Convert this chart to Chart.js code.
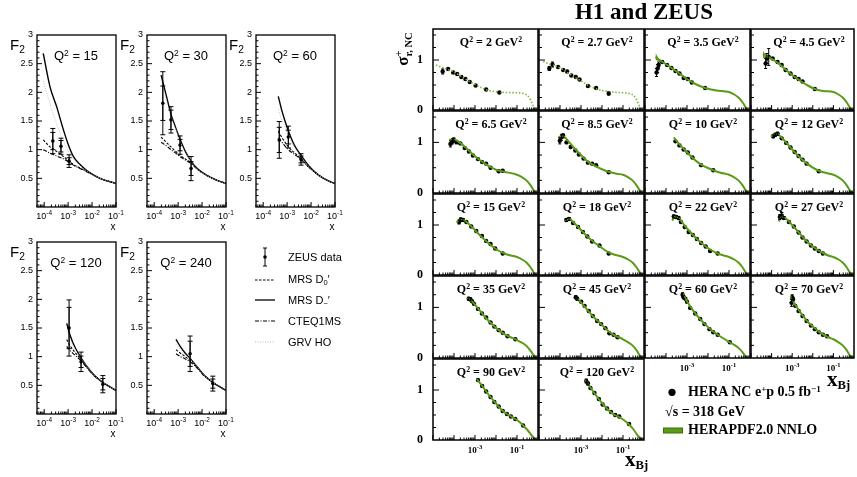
<!DOCTYPE html>
<html>
<head>
<meta charset="utf-8">
<script src="https://cdn.jsdelivr.net/npm/chart.js@4.4.1/dist/chart.umd.min.js"></script>
<style>
  body { margin: 0; width: 857px; height: 477px; position: relative; overflow: hidden; background: #fff; }
  canvas, svg { position: absolute; }
  .t { position: absolute; white-space: nowrap; line-height: 1; color: #000; }
  .sans { font-family: "Liberation Sans", Arial, sans-serif; }
  .serif { font-family: "Liberation Serif", "Times New Roman", serif; font-weight: bold; }
  .up { position: relative; top: -0.45em; font-size: 0.65em; }
  .dn { position: relative; top: 0.3em; font-size: 0.68em; }
</style>
</head>
<body>
<script>
// ---------- left figure (ZEUS F2) : [log10 x, F2, stat err, total err] ----------
const zeusQ2 = ['15', '30', '60', '120', '240'];
const zeus15 = [[-3.64, 1.15, 0.15, 0.22], [-3.30, 1.06, 0.10, 0.14], [-2.96, 0.80, 0.06, 0.11]];
const zeus30 = [[-3.64, 1.81, 0.30, 0.55], [-3.30, 1.52, 0.17, 0.23], [-2.92, 1.08, 0.10, 0.16], [-2.46, 0.67, 0.12, 0.21]];
const zeus60 = [[-3.33, 1.17, 0.22, 0.32], [-2.95, 1.22, 0.12, 0.19], [-2.42, 0.83, 0.06, 0.10]];
const zeus120 = [[-2.96, 1.50, 0.36, 0.49], [-2.46, 0.91, 0.10, 0.17], [-1.55, 0.52, 0.10, 0.15]];
const zeus240 = [[-2.50, 1.05, 0.22, 0.31], [-1.55, 0.53, 0.08, 0.13]];

// curves [log10 x, F2]
const mrsDm15 = [[-4.04, 2.68], [-3.76, 2.1], [-3.48, 1.75], [-3.2, 1.35], [-2.96, 1.05], [-2.78, 0.88], [-2.5, 0.74], [-2.21, 0.63], [-1.67, 0.5], [-1.0, 0.41]];
const mrsD015 = [[-4.04, 1.17], [-3.76, 1.05], [-3.48, 0.97], [-3.2, 0.88], [-2.96, 0.80], [-2.78, 0.74], [-2.5, 0.68], [-2.21, 0.62], [-1.67, 0.5], [-1.0, 0.41]];
const cteq15 = [[-4.04, 1.0], [-3.76, 0.94], [-3.48, 0.89], [-3.2, 0.84], [-2.96, 0.78], [-2.78, 0.73], [-2.5, 0.67], [-2.21, 0.61], [-1.67, 0.5], [-1.0, 0.41]];
const grv15 = [[-4.04, 2.2], [-3.76, 1.8], [-3.48, 1.45], [-3.2, 1.15], [-2.96, 0.95], [-2.78, 0.84], [-2.5, 0.72], [-2.21, 0.62], [-1.67, 0.5], [-1.0, 0.41]];

const mrsDm30 = [[-3.71, 2.30], [-3.5, 1.95], [-3.3, 1.62], [-3.1, 1.38], [-2.92, 1.18], [-2.7, 0.97], [-2.46, 0.80], [-2.2, 0.67], [-1.8, 0.55], [-1.4, 0.47], [-1.0, 0.41]];
const mrsD030 = [[-3.71, 1.22], [-3.5, 1.13], [-3.3, 1.05], [-3.1, 0.97], [-2.92, 0.90], [-2.7, 0.84], [-2.46, 0.77], [-2.2, 0.66], [-1.8, 0.55], [-1.4, 0.47], [-1.0, 0.41]];
const cteq30 = [[-3.71, 1.13], [-3.5, 1.07], [-3.3, 1.0], [-3.1, 0.94], [-2.92, 0.88], [-2.7, 0.82], [-2.46, 0.76], [-2.2, 0.66], [-1.8, 0.55], [-1.4, 0.47], [-1.0, 0.41]];
const grv30 = [[-3.71, 2.22], [-3.5, 1.88], [-3.3, 1.58], [-3.1, 1.35], [-2.92, 1.15], [-2.7, 0.95], [-2.46, 0.79], [-2.2, 0.66], [-1.8, 0.55], [-1.4, 0.47], [-1.0, 0.41]];

const mrsDm60 = [[-3.37, 1.93], [-3.2, 1.65], [-2.95, 1.33], [-2.7, 1.08], [-2.42, 0.9], [-2.1, 0.72], [-1.7, 0.56], [-1.3, 0.46], [-1.0, 0.41]];
const mrsD060 = [[-3.37, 1.32], [-3.2, 1.2], [-2.95, 1.05], [-2.7, 0.95], [-2.42, 0.84], [-2.1, 0.70], [-1.7, 0.56], [-1.3, 0.46], [-1.0, 0.41]];
const cteq60 = [[-3.37, 1.2], [-3.2, 1.12], [-2.95, 1.0], [-2.7, 0.92], [-2.42, 0.83], [-2.1, 0.70], [-1.7, 0.56], [-1.3, 0.46], [-1.0, 0.41]];
const grv60 = [[-3.37, 1.7], [-3.2, 1.5], [-2.95, 1.25], [-2.7, 1.05], [-2.42, 0.88], [-2.1, 0.71], [-1.7, 0.56], [-1.3, 0.46], [-1.0, 0.41]];

const mrsDm120 = [[-3.06, 1.58], [-2.9, 1.35], [-2.7, 1.15], [-2.46, 0.98], [-2.2, 0.82], [-1.9, 0.67], [-1.55, 0.55], [-1.2, 0.46], [-1.0, 0.41]];
const mrsD0120 = [[-3.06, 1.3], [-2.9, 1.18], [-2.7, 1.07], [-2.46, 0.95], [-2.2, 0.81], [-1.9, 0.67], [-1.55, 0.55], [-1.2, 0.46], [-1.0, 0.41]];
const cteq120 = [[-3.06, 1.18], [-2.9, 1.1], [-2.7, 1.02], [-2.46, 0.93], [-2.2, 0.8], [-1.9, 0.66], [-1.55, 0.55], [-1.2, 0.46], [-1.0, 0.41]];
const grv120 = [[-3.06, 1.45], [-2.9, 1.28], [-2.7, 1.12], [-2.46, 0.97], [-2.2, 0.82], [-1.9, 0.67], [-1.55, 0.55], [-1.2, 0.46], [-1.0, 0.41]];

const mrsDm240 = [[-3.09, 1.3], [-2.9, 1.17], [-2.7, 1.06], [-2.5, 0.97], [-2.2, 0.82], [-1.9, 0.67], [-1.55, 0.55], [-1.2, 0.46], [-1.0, 0.41]];
const mrsD0240 = [[-3.09, 1.12], [-2.9, 1.06], [-2.7, 1.0], [-2.5, 0.93], [-2.2, 0.81], [-1.9, 0.67], [-1.55, 0.55], [-1.2, 0.46], [-1.0, 0.41]];
const cteq240 = [[-3.09, 1.05], [-2.9, 1.0], [-2.7, 0.96], [-2.5, 0.91], [-2.2, 0.8], [-1.9, 0.66], [-1.55, 0.55], [-1.2, 0.46], [-1.0, 0.41]];
const grv240 = [[-3.09, 1.22], [-2.9, 1.12], [-2.7, 1.03], [-2.5, 0.95], [-2.2, 0.82], [-1.9, 0.67], [-1.55, 0.55], [-1.2, 0.46], [-1.0, 0.41]];

const leftYTicks = [[0.5, '0.5'], [1, '1'], [1.5, '1.5'], [2, '2'], [2.5, '2.5'], [3, '3']];
const leftXTicks = [-4, -3, -2, -1];

// ---------- right figure (H1 and ZEUS) : points [log10 x, sigma, err], fit [log10 x, sigma] ----------
const hQ2 = ['2', '2.7', '3.5', '4.5', '6.5', '8.5', '10', '12', '15', '18', '22', '27', '35', '45', '60', '70', '90', '120'];

const h2Pts = [[-4.54, 0.77, 0.05], [-4.28, 0.82, 0], [-4.04, 0.75, 0], [-3.85, 0.72, 0], [-3.65, 0.66, 0], [-3.46, 0.62, 0], [-3.25, 0.56, 0], [-2.97, 0.49, 0], [-2.47, 0.41, 0], [-1.84, 0.35, 0.02]];
const h2Fit = [[-4.86, 0.90], [-4.5, 0.84], [-4.0, 0.76], [-3.5, 0.63], [-3.0, 0.51], [-2.5, 0.41], [-2.0, 0.365], [-1.5, 0.35], [-1.0, 0.345], [-0.7, 0.33], [-0.5, 0.29], [-0.35, 0.2], [-0.22, 0.08], [-0.12, 0]];
const h2p7Pts = [[-4.51, 0.83, 0.04], [-4.36, 0.91, 0.05], [-4.09, 0.86, 0], [-3.85, 0.80, 0], [-3.66, 0.77, 0], [-3.46, 0.69, 0], [-3.25, 0.66, 0], [-3.07, 0.61, 0], [-2.67, 0.48, 0], [-2.28, 0.44, 0], [-1.68, 0.33, 0.03]];
const h2p7Fit = [[-4.8, 0.97], [-4.5, 0.92], [-4.0, 0.84], [-3.5, 0.71], [-3.0, 0.58], [-2.5, 0.46], [-2.0, 0.39], [-1.5, 0.36], [-1.0, 0.345], [-0.7, 0.33], [-0.5, 0.29], [-0.35, 0.2], [-0.22, 0.08], [-0.1, 0]];
const h3p5Pts = [[-4.45, 0.75, 0.08], [-4.40, 0.83, 0.08], [-4.35, 0.90, 0.06], [-4.18, 0.96, 0], [-3.95, 0.90, 0], [-3.74, 0.84, 0], [-3.55, 0.78, 0], [-3.36, 0.73, 0], [-3.16, 0.64, 0], [-2.96, 0.62, 0], [-2.77, 0.55, 0], [-2.14, 0.44, 0]];
const h3p5Fit = [[-4.5, 1.06], [-4.2, 0.97], [-3.8, 0.86], [-3.4, 0.74], [-3.0, 0.62], [-2.6, 0.52], [-2.14, 0.44], [-1.6, 0.39], [-1.0, 0.36], [-0.75, 0.31], [-0.55, 0.25], [-0.35, 0.15], [-0.2, 0.05], [-0.14, 0]];
const h3p5Up = [[-4.5, 1.14], [-4.35, 1.03], [-4.2, 0.98]];
const h3p5Lo = [[-4.5, 1.0], [-4.35, 0.98], [-4.2, 0.96]];
const h4p5Pts = [[-4.29, 0.93, 0.1], [-4.23, 1.03, 0.1], [-4.14, 1.06, 0.17], [-3.95, 1.03, 0], [-3.71, 0.96, 0], [-3.51, 0.90, 0], [-3.32, 0.80, 0], [-3.08, 0.73, 0], [-2.88, 0.66, 0], [-2.69, 0.62, 0], [-2.50, 0.57, 0], [-1.90, 0.42, 0]];
const h4p5Fit = [[-4.42, 1.12], [-4.2, 1.07], [-3.9, 1.0], [-3.6, 0.91], [-3.3, 0.80], [-3.0, 0.70], [-2.6, 0.58], [-2.2, 0.48], [-1.9, 0.42], [-1.5, 0.38], [-1.0, 0.36], [-0.75, 0.31], [-0.55, 0.25], [-0.35, 0.15], [-0.2, 0.05], [-0.12, 0]];
const h4p5Up = [[-4.42, 1.18], [-4.3, 1.11], [-4.15, 1.07]];
const h4p5Lo = [[-4.42, 1.04], [-4.3, 1.05], [-4.15, 1.05]];
const h6p5Pts = [[-4.17, 0.97, 0.06], [-4.07, 1.02, 0.05], [-4.01, 1.05, 0.04], [-3.88, 1.00, 0], [-3.70, 0.98, 0], [-3.49, 0.89, 0], [-3.29, 0.82, 0], [-3.10, 0.74, 0], [-2.86, 0.67, 0], [-2.66, 0.61, 0], [-2.47, 0.58, 0], [-2.26, 0.50, 0], [-1.87, 0.43, 0], [-1.68, 0.44, 0]];
const h6p5Fit = [[-4.23, 1.05], [-4.0, 1.06], [-3.8, 1.02], [-3.5, 0.92], [-3.2, 0.80], [-2.9, 0.69], [-2.6, 0.60], [-2.3, 0.52], [-2.0, 0.46], [-1.6, 0.42], [-1.0, 0.36], [-0.75, 0.31], [-0.55, 0.25], [-0.35, 0.15], [-0.2, 0.05], [-0.08, 0]];
const h8p5Pts = [[-4.01, 1.03, 0.06], [-3.93, 1.10, 0.06], [-3.85, 1.13, 0.04], [-3.69, 1.0, 0], [-3.49, 0.91, 0], [-3.27, 0.84, 0], [-3.10, 0.76, 0], [-2.88, 0.68, 0], [-2.67, 0.60, 0], [-2.47, 0.58, 0], [-2.28, 0.55, 0], [-1.68, 0.41, 0]];
const h8p5Fit = [[-4.09, 1.09], [-3.85, 1.12], [-3.6, 1.02], [-3.3, 0.88], [-3.0, 0.75], [-2.7, 0.63], [-2.4, 0.55], [-2.0, 0.47], [-1.68, 0.42], [-1.3, 0.38], [-1.0, 0.36], [-0.75, 0.31], [-0.55, 0.25], [-0.35, 0.15], [-0.2, 0.05], [-0.08, 0]];
const h10Pts = [[-3.55, 1.02, 0], [-3.36, 0.94, 0], [-3.16, 0.86, 0], [-2.96, 0.80, 0], [-2.74, 0.70, 0], [-2.33, 0.55, 0], [-1.75, 0.45, 0]];
const h10Fit = [[-3.63, 1.10], [-3.4, 0.98], [-3.1, 0.85], [-2.8, 0.72], [-2.5, 0.61], [-2.2, 0.53], [-1.75, 0.45], [-1.4, 0.40], [-1.0, 0.36], [-0.75, 0.31], [-0.55, 0.25], [-0.35, 0.15], [-0.2, 0.05], [-0.08, 0]];
const h12Pts = [[-3.92, 1.12, 0.03], [-3.82, 1.15, 0.03], [-3.71, 1.17, 0.03], [-3.51, 1.08, 0], [-3.29, 0.99, 0], [-3.08, 0.90, 0], [-2.88, 0.81, 0], [-2.69, 0.73, 0], [-2.50, 0.66, 0], [-2.30, 0.58, 0], [-1.71, 0.43, 0]];
const h12Fit = [[-4.03, 1.11], [-3.8, 1.18], [-3.6, 1.13], [-3.3, 1.0], [-3.0, 0.86], [-2.7, 0.73], [-2.4, 0.62], [-2.0, 0.50], [-1.71, 0.44], [-1.3, 0.39], [-1.0, 0.36], [-0.75, 0.31], [-0.55, 0.25], [-0.35, 0.15], [-0.2, 0.05], [-0.09, 0]];
const h15Pts = [[-3.76, 1.06, 0.04], [-3.68, 1.11, 0.03], [-3.57, 1.10, 0.03], [-3.41, 1.06, 0], [-3.18, 0.97, 0], [-2.94, 0.88, 0], [-2.67, 0.78, 0], [-2.47, 0.68, 0], [-2.26, 0.62, 0], [-2.04, 0.53, 0], [-1.68, 0.43, 0]];
const h15Fit = [[-3.88, 1.05], [-3.65, 1.12], [-3.4, 1.06], [-3.1, 0.94], [-2.8, 0.81], [-2.5, 0.69], [-2.2, 0.58], [-1.9, 0.49], [-1.6, 0.43], [-1.3, 0.39], [-1.0, 0.36], [-0.75, 0.31], [-0.55, 0.25], [-0.35, 0.15], [-0.2, 0.05], [-0.08, 0]];
const h18Pts = [[-3.70, 1.10, 0.03], [-3.57, 1.12, 0.03], [-3.38, 1.04, 0], [-3.14, 0.96, 0], [-2.91, 0.86, 0], [-2.70, 0.77, 0], [-2.47, 0.67, 0], [-2.12, 0.59, 0], [-1.68, 0.43, 0]];
const h18Fit = [[-3.77, 1.07], [-3.55, 1.12], [-3.3, 1.03], [-3.0, 0.90], [-2.7, 0.77], [-2.4, 0.66], [-2.1, 0.57], [-1.8, 0.48], [-1.5, 0.42], [-1.0, 0.36], [-0.75, 0.31], [-0.55, 0.25], [-0.35, 0.15], [-0.2, 0.05], [-0.05, 0]];
const h22Pts = [[-3.63, 1.17, 0.03], [-3.52, 1.16, 0.03], [-3.40, 1.14, 0.03], [-3.29, 1.06, 0], [-3.11, 0.96, 0], [-2.92, 0.86, 0], [-2.72, 0.80, 0], [-2.53, 0.72, 0], [-2.33, 0.64, 0], [-2.11, 0.57, 0], [-1.90, 0.48, 0], [-1.54, 0.43, 0]];
const h22Fit = [[-3.71, 1.09], [-3.55, 1.17], [-3.35, 1.12], [-3.1, 0.98], [-2.8, 0.84], [-2.5, 0.71], [-2.2, 0.60], [-1.9, 0.51], [-1.54, 0.43], [-1.25, 0.39], [-1.0, 0.36], [-0.75, 0.31], [-0.55, 0.25], [-0.35, 0.15], [-0.2, 0.05], [-0.09, 0]];
const h27Pts = [[-3.60, 1.16, 0.05], [-3.51, 1.19, 0.06], [-3.40, 1.14, 0.03], [-3.16, 1.06, 0], [-2.92, 0.97, 0], [-2.69, 0.85, 0], [-2.50, 0.75, 0], [-2.30, 0.67, 0], [-2.09, 0.59, 0], [-1.90, 0.53, 0], [-1.71, 0.48, 0], [-1.51, 0.43, 0]];
const h27Fit = [[-3.66, 1.07], [-3.5, 1.17], [-3.3, 1.13], [-3.0, 1.0], [-2.7, 0.86], [-2.4, 0.72], [-2.1, 0.60], [-1.8, 0.51], [-1.5, 0.44], [-1.25, 0.39], [-1.0, 0.36], [-0.75, 0.31], [-0.55, 0.25], [-0.35, 0.15], [-0.2, 0.05], [-0.06, 0]];
const h35Pts = [[-3.30, 1.17, 0.03], [-3.22, 1.16, 0.03], [-3.14, 1.12, 0], [-3.05, 1.07, 0], [-2.86, 0.97, 0], [-2.67, 0.88, 0], [-2.47, 0.80, 0], [-2.26, 0.70, 0], [-2.08, 0.62, 0], [-1.87, 0.55, 0], [-1.68, 0.50, 0], [-1.45, 0.43, 0], [-1.08, 0.37, 0]];
const h35Fit = [[-3.35, 1.19], [-3.1, 1.1], [-2.8, 0.95], [-2.5, 0.80], [-2.2, 0.67], [-1.9, 0.56], [-1.6, 0.47], [-1.3, 0.41], [-1.08, 0.37], [-0.75, 0.3], [-0.55, 0.24], [-0.35, 0.14], [-0.2, 0.05], [-0.1, 0]];
const h45Pts = [[-3.25, 1.20, 0.03], [-3.18, 1.17, 0.03], [-2.99, 1.11, 0], [-2.83, 1.03, 0], [-2.63, 0.93, 0], [-2.44, 0.83, 0], [-2.23, 0.73, 0], [-2.04, 0.67, 0], [-1.84, 0.59, 0], [-1.65, 0.49, 0], [-1.45, 0.46, 0], [-1.26, 0.41, 0]];
const h45Fit = [[-3.27, 1.2], [-3.0, 1.1], [-2.7, 0.95], [-2.4, 0.81], [-2.1, 0.69], [-1.8, 0.57], [-1.5, 0.47], [-1.26, 0.42], [-1.0, 0.37], [-0.75, 0.31], [-0.55, 0.25], [-0.35, 0.15], [-0.2, 0.05], [-0.05, 0]];
const h60Pts = [[-3.21, 1.25, 0.04], [-3.16, 1.20, 0.03], [-3.08, 1.17, 0], [-3.00, 1.11, 0], [-2.85, 0.99, 0], [-2.61, 0.88, 0], [-2.37, 0.77, 0], [-2.17, 0.67, 0], [-1.93, 0.57, 0], [-1.75, 0.51, 0], [-1.54, 0.46, 0], [-0.96, 0.31, 0]];
const h60Fit = [[-3.21, 1.28], [-3.0, 1.12], [-2.7, 0.93], [-2.4, 0.78], [-2.1, 0.65], [-1.8, 0.54], [-1.5, 0.45], [-1.2, 0.37], [-0.96, 0.31], [-0.75, 0.26], [-0.55, 0.2], [-0.35, 0.11], [-0.17, 0]];
const h70Pts = [[-3.03, 1.09, 0.07], [-3.00, 1.20, 0.05], [-2.96, 1.16, 0.03], [-2.85, 1.03, 0], [-2.69, 0.93, 0], [-2.50, 0.83, 0], [-2.30, 0.73, 0], [-2.09, 0.64, 0], [-1.90, 0.57, 0], [-1.71, 0.51, 0], [-1.51, 0.46, 0], [-1.31, 0.43, 0]];
const h70Fit = [[-3.08, 1.22], [-2.85, 1.05], [-2.6, 0.9], [-2.3, 0.74], [-2.0, 0.62], [-1.7, 0.52], [-1.4, 0.44], [-1.2, 0.40], [-1.0, 0.37], [-0.75, 0.31], [-0.55, 0.25], [-0.35, 0.15], [-0.2, 0.05], [-0.06, 0]];
const h90Pts = [[-2.86, 1.20, 0], [-2.66, 1.08, 0], [-2.47, 0.97, 0], [-2.26, 0.86, 0], [-2.08, 0.76, 0], [-1.87, 0.67, 0], [-1.68, 0.58, 0], [-1.48, 0.52, 0], [-1.29, 0.47, 0], [-1.08, 0.42, 0], [-0.71, 0.29, 0]];
const h90Fit = [[-2.91, 1.22], [-2.6, 1.05], [-2.3, 0.88], [-2.0, 0.73], [-1.7, 0.59], [-1.4, 0.5], [-1.08, 0.42], [-0.85, 0.35], [-0.71, 0.29], [-0.5, 0.2], [-0.3, 0.09], [-0.11, 0]];
const h120Pts = [[-2.75, 1.18, 0.04], [-2.67, 1.13, 0.03], [-2.55, 1.04, 0], [-2.36, 0.94, 0], [-2.15, 0.82, 0], [-1.97, 0.71, 0], [-1.76, 0.63, 0], [-1.57, 0.56, 0], [-1.37, 0.50, 0], [-1.18, 0.47, 0], [-0.71, 0.32, 0]];
const h120Fit = [[-2.8, 1.21], [-2.55, 1.05], [-2.3, 0.9], [-2.0, 0.74], [-1.7, 0.6], [-1.4, 0.5], [-1.18, 0.46], [-0.9, 0.38], [-0.71, 0.31], [-0.5, 0.21], [-0.3, 0.09], [-0.08, 0]];

const rightYTicks = [[0, '0'], [1, '1']];
const rightXTicks = [-3, -1];

const GREEN = '#5a9b16';

// ---------- helpers ----------
const toXY = arr => arr.map(p => ({ x: Math.pow(10, p[0]), y: p[1] }));

function drawPow(ctx, x, y, exp, big, small, font) {
  ctx.font = font(big);
  const w1 = ctx.measureText('10').width;
  ctx.font = font(small);
  const w2 = ctx.measureText(exp).width;
  const x0 = x - (w1 + w2) / 2;
  ctx.textAlign = 'left';
  ctx.textBaseline = 'alphabetic';
  ctx.font = font(big);
  ctx.fillText('10', x0, y);
  ctx.font = font(small);
  ctx.fillText(exp, x0 + w1, y - big * 0.5);
}

const framePlugin = {
  id: 'frame',
  afterDatasetsDraw(chart, args, o) {
    const ctx = chart.ctx, a = chart.chartArea, sx = chart.scales.x, sy = chart.scales.y;
    ctx.save();
    ctx.strokeStyle = '#000';
    ctx.fillStyle = '#000';
    // error bars
    chart.data.datasets.forEach((ds, i) => {
      if (!ds.errs) return;
      const meta = chart.getDatasetMeta(i);
      ds.errs.forEach((e, j) => {
        const p = meta.data[j];
        const v = ds.data[j].y;
        [].concat(e).forEach(err => {
          if (!err) return;
          const y1 = sy.getPixelForValue(v + err), y2 = sy.getPixelForValue(v - err);
          ctx.lineWidth = o.errW;
          ctx.beginPath();
          ctx.moveTo(p.x, y1); ctx.lineTo(p.x, y2);
          ctx.moveTo(p.x - o.cap, y1); ctx.lineTo(p.x + o.cap, y1);
          ctx.moveTo(p.x - o.cap, y2); ctx.lineTo(p.x + o.cap, y2);
          ctx.stroke();
        });
      });
    });
    // inward ticks
    ctx.lineWidth = o.tickW;
    ctx.beginPath();
    for (let k = 1; k * o.yStep < sy.max - 1e-6; k++) {
      const v = k * o.yStep;
      const py = sy.getPixelForValue(v);
      const major = Math.abs(v / o.yMajor - Math.round(v / o.yMajor)) < 1e-6;
      ctx.moveTo(a.left, py);
      ctx.lineTo(a.left + (major ? o.yMajorLen : o.yMinorLen), py);
    }
    for (let d = o.decades[0]; d <= o.decades[1]; d++) {
      for (let m = 1; m < 10; m++) {
        const v = m * Math.pow(10, d);
        if (v < sx.min * 0.999 || v > sx.max * 1.001) continue;
        const px = sx.getPixelForValue(v);
        ctx.moveTo(px, a.bottom);
        ctx.lineTo(px, a.bottom - (m === 1 ? o.xMajorLen : o.xMinorLen));
      }
    }
    ctx.stroke();
    ctx.lineWidth = o.frameW;
    ctx.strokeRect(a.left, a.top, a.right - a.left, a.bottom - a.top);
    // tick labels
    if (o.yLabels) {
      ctx.font = o.font(o.ySize);
      ctx.textAlign = o.yAlign;
      ctx.textBaseline = 'middle';
      o.yLabels.forEach(l => ctx.fillText(l[1], a.left - o.yGap, sy.getPixelForValue(l[0])));
    }
    if (o.xLabels) {
      o.xLabels.forEach(l => drawPow(ctx, sx.getPixelForValue(Math.pow(10, l)), a.bottom + o.xGap, '-' + Math.abs(l), o.xSize, o.xSup, o.font));
    }
    ctx.restore();
  }
};
Chart.register(framePlugin);

function panel(left, top, w, h, pad, datasets, xr, yr, frameOpts) {
  const c = document.createElement('canvas');
  c.width = w + pad.l + pad.r;
  c.height = h + pad.t + pad.b;
  c.style.left = (left - pad.l) + 'px';
  c.style.top = (top - pad.t) + 'px';
  document.body.appendChild(c);
  new Chart(c, {
    type: 'line',
    data: { datasets },
    options: {
      responsive: false,
      animation: false,
      devicePixelRatio: 1,
      layout: { padding: { left: pad.l, right: pad.r, top: pad.t, bottom: pad.b } },
      plugins: { legend: { display: false }, tooltip: { enabled: false }, frame: frameOpts },
      scales: {
        x: { type: 'logarithmic', min: xr[0], max: xr[1], display: false },
        y: { type: 'linear', min: yr[0], max: yr[1], display: false }
      }
    }
  });
}

function text(html, x, base, size, cls, align) {
  const d = document.createElement('div');
  d.className = 't ' + cls;
  d.innerHTML = html;
  d.style.fontSize = size + 'px';
  d.style.top = (base - 0.84 * size) + 'px';
  d.style.left = x + 'px';
  if (align === 'center') d.style.transform = 'translateX(-50%)';
  if (align === 'right') d.style.transform = 'translateX(-100%)';
  document.body.appendChild(d);
  return d;
}

const sansFont = s => s + 'px "Liberation Sans", Arial, sans-serif';
const serifFont = s => 'bold ' + s + 'px "Liberation Serif", "Times New Roman", serif';

// ---------- left figure ----------
const leftFrames = [[37, 35], [147, 35], [256, 35], [37, 242], [147, 242]];
const leftSets = [
  [zeus15, mrsDm15, mrsD015, cteq15, grv15],
  [zeus30, mrsDm30, mrsD030, cteq30, grv30],
  [zeus60, mrsDm60, mrsD060, cteq60, grv60],
  [zeus120, mrsDm120, mrsD0120, cteq120, grv120],
  [zeus240, mrsDm240, mrsD0240, cteq240, grv240]
];

leftSets.forEach((s, i) => {
  const [L, T] = leftFrames[i];
  const curve = (d, dash, w, col) => ({
    data: toXY(d), borderColor: col, borderWidth: w, borderDash: dash, pointRadius: 0,
    cubicInterpolationMode: 'monotone', fill: false
  });
  const datasets = [
    curve(s[4], [1, 1.5], 0.9, '#bdbdbd'),
    curve(s[3], [4, 1.5, 1, 1.5], 1.1, '#000'),
    curve(s[2], [2.5, 1.5], 1.1, '#000'),
    curve(s[1], [], 1.4, '#000'),
    {
      data: toXY(s[0]), showLine: false, pointRadius: 1.8, pointBackgroundColor: '#000',
      pointBorderWidth: 0, errs: s[0].map(p => [p[2], p[3]])
    }
  ];
  panel(L, T, 79, 172, { l: 36, r: 14, t: 8, b: 30 }, datasets, [5e-5, 0.1], [0, 3], {
    frameW: 1.3, tickW: 1, errW: 1, cap: 2.5,
    yStep: 0.1, yMajor: 0.5, yMajorLen: 5, yMinorLen: 2.5,
    decades: [-5, -1], xMajorLen: 5, xMinorLen: 2.5,
    font: sansFont, yLabels: leftYTicks, ySize: 9, yAlign: 'right', yGap: 4,
    xLabels: leftXTicks, xSize: 9, xSup: 6.5, xGap: 12
  });
  text('Q<span class="up">2</span> = ' + zeusQ2[i], L + 39, T + 25, 13, 'sans', 'center');
  text('F<span class="dn">2</span>', L - 27, T + 15, 15, 'sans');
  text('x', L + 76, T + 172 + 23, 10, 'sans', 'center');
});

// left legend
const legL = [
  ['ZEUS data', 261], ['MRS D<span class="dn">0</span>\u2032', 283], ['MRS D<span class="dn">\u2212</span>\u2032', 304],
  ['CTEQ1MS', 325], ['GRV HO', 346]
];
legL.forEach(l => text(l[0], 288, l[1], 11, 'sans'));
document.body.insertAdjacentHTML('beforeend',
  '<svg style="left:250px;top:245px" width="30" height="105">' +
  '<g stroke="#000" stroke-width="1">' +
  '<line x1="15" y1="3" x2="15" y2="21"/><line x1="13" y1="3" x2="17" y2="3"/><line x1="13" y1="21" x2="17" y2="21"/>' +
  '<line x1="5" y1="35" x2="25" y2="35" stroke-dasharray="2.5,1.5"/>' +
  '<line x1="5" y1="55" x2="25" y2="55" stroke-width="1.3"/>' +
  '<line x1="5" y1="76" x2="25" y2="76" stroke-dasharray="4,1.5,1,1.5"/>' +
  '<line x1="5" y1="97" x2="25" y2="97" stroke="#bdbdbd" stroke-dasharray="1,1.5"/>' +
  '</g><circle cx="15" cy="12" r="1.8" fill="#000"/></svg>');

// ---------- right figure ----------
const hPanels = [
  [h2Pts, h2Fit], [h2p7Pts, h2p7Fit], [h3p5Pts, h3p5Fit, h3p5Up, h3p5Lo], [h4p5Pts, h4p5Fit, h4p5Up, h4p5Lo],
  [h6p5Pts, h6p5Fit], [h8p5Pts, h8p5Fit], [h10Pts, h10Fit], [h12Pts, h12Fit],
  [h15Pts, h15Fit], [h18Pts, h18Fit], [h22Pts, h22Fit], [h27Pts, h27Fit],
  [h35Pts, h35Fit], [h45Pts, h45Fit], [h60Pts, h60Fit], [h70Pts, h70Fit],
  [h90Pts, h90Fit], [h120Pts, h120Fit]
];
const colL = [433, 539, 645, 751];
const colW = [106, 106, 106, 104];
const rowT = [28, 110, 193, 275, 358];
const rowH = [82, 83, 82, 83, 82];

hPanels.forEach((p, i) => {
  const r = Math.floor(i / 4), c = i % 4;
  const L = colL[c], T = rowT[r];
  const datasets = [];
  if (p[2]) {
    datasets.push({ data: toXY(p[2]), borderWidth: 0, pointRadius: 0, fill: false });
    datasets.push({ data: toXY(p[3]), borderWidth: 0, pointRadius: 0, fill: '-1', backgroundColor: GREEN });
  }
  datasets.push({
    data: toXY(p[1]), borderColor: i < 2 ? '#7fb83a' : GREEN, borderWidth: i < 2 ? 1.6 : 2,
    borderDash: i < 2 ? [1.5, 1.8] : [], pointRadius: 0, cubicInterpolationMode: 'monotone', fill: false
  });
  datasets.push({
    data: toXY(p[0]), showLine: false, pointRadius: 2.2, pointBackgroundColor: '#000',
    pointBorderWidth: 0, errs: p[0].map(q => q[2])
  });
  const bottomLabels = (r === 4) || (r === 3 && c >= 2);
  panel(L, T, colW[c], rowH[r], { l: 26, r: 3, t: 3, b: 22 }, datasets, [1e-5, 1], [0, 1.62], {
    frameW: 1.5, tickW: 1, errW: 1, cap: 1.5,
    yStep: 0.25, yMajor: 1, yMajorLen: 6, yMinorLen: 3,
    decades: [-5, -1], xMajorLen: 5, xMinorLen: 2.5,
    font: serifFont, yLabels: c === 0 ? rightYTicks : null, ySize: 12, yAlign: 'center', yGap: 13,
    xLabels: bottomLabels ? rightXTicks : null, xSize: 9, xSup: 6.5, xGap: 13
  });
  text('Q<span class="up">2</span> = ' + hQ2[i] + ' GeV<span class="up">2</span>', L + 58, T + 18, 12, 'serif', 'center');
});

// title, axis titles, legend
text('H1 and ZEUS', 644, 19, 23, 'serif', 'center');
const yt = text('\u03c3<span style="display:inline-block;vertical-align:-0.35em;font-size:0.62em;line-height:0.95;text-align:left">' +
  '<span style="display:block">+</span><span style="display:block">r, NC</span></span>', 404, 55, 17, 'serif');
yt.style.top = '49px';
yt.style.transform = 'translate(-50%,-50%) rotate(-90deg)';
text('x<span style="font-size:0.6em;position:relative;top:0.2em">Bj</span>', 625, 467, 21, 'serif');
text('x<span style="font-size:0.6em;position:relative;top:0.2em">Bj</span>', 827, 387, 21, 'serif');
text('HERA NC e<span class="up">+</span>p 0.5 fb<span class="up">\u22121</span>', 688, 397, 14, 'serif');
text('\u221as = 318 GeV', 665, 417, 14, 'serif');
text('HERAPDF2.0 NNLO', 688, 435, 14, 'serif');
document.body.insertAdjacentHTML('beforeend',
  '<svg style="left:660px;top:385px" width="30" height="55">' +
  '<circle cx="12" cy="7.3" r="3.6" fill="#000"/>' +
  '<rect x="3.5" y="43" width="19" height="5" fill="' + GREEN + '" stroke="#3d6e0c" stroke-width="1"/></svg>');
</script>
</body>
</html>
